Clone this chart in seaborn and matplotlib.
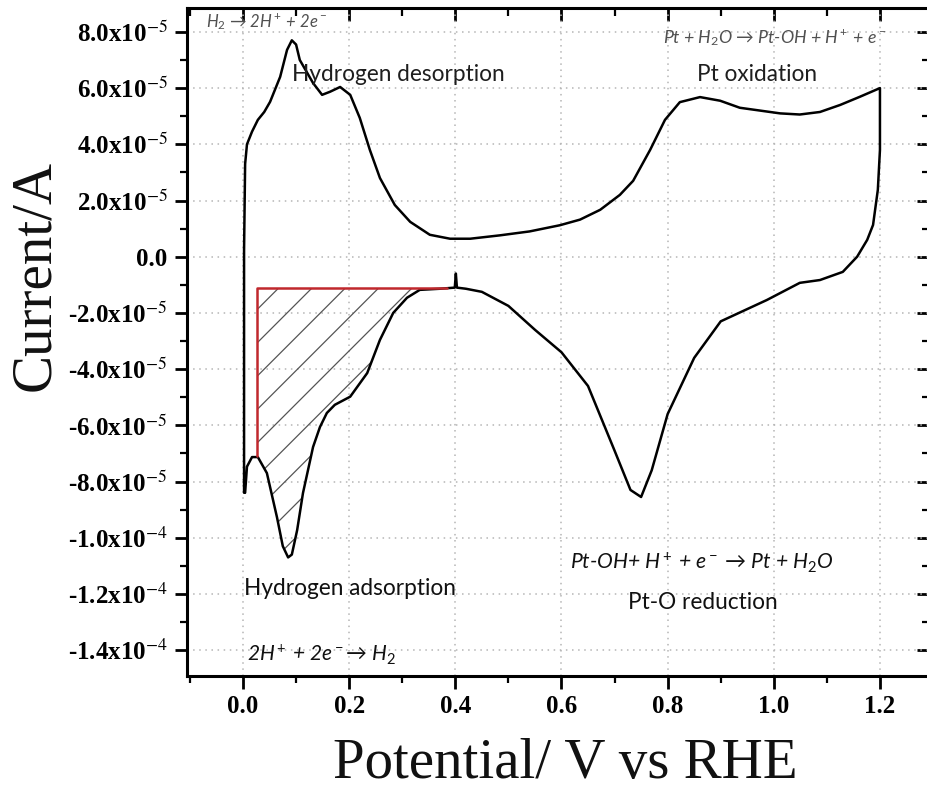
import numpy as np
import pandas as pd
import matplotlib
matplotlib.use("Agg")
import matplotlib.pyplot as plt
import seaborn as sns
from matplotlib.ticker import MultipleLocator, FixedLocator

# ---------------- data (potential in V, current in units of 1e-5 A) ----------------
anodic_v = [0.002, 0.002, 0.002, 0.004, 0.0075, 0.017, 0.028, 0.04, 0.051, 0.07, 0.083,
            0.092, 0.10, 0.107, 0.132, 0.149, 0.164, 0.183, 0.202, 0.22, 0.239, 0.258,
            0.286, 0.315, 0.352, 0.39, 0.428, 0.484, 0.54, 0.597, 0.635, 0.673, 0.71,
            0.735, 0.767, 0.795, 0.823, 0.861, 0.899, 0.936, 0.974, 1.012, 1.049, 1.087,
            1.125, 1.162, 1.20]
anodic_i = [-8.4, -5.1, 0.24, 3.3, 4.0, 4.45, 4.87, 5.15, 5.51, 6.4, 7.36,
            7.7, 7.55, 7.0, 6.18, 5.76, 5.87, 6.04, 5.76, 4.94, 3.8, 2.8,
            1.84, 1.24, 0.78, 0.64, 0.64, 0.76, 0.9, 1.12, 1.32, 1.67, 2.2,
            2.7, 3.8, 4.87, 5.5, 5.68, 5.55, 5.3, 5.2, 5.1, 5.06, 5.15,
            5.4, 5.69, 6.0]

cathodic_v = [1.20, 1.20, 1.196, 1.187, 1.176, 1.157, 1.13, 1.087, 1.049, 0.987, 0.90,
              0.85, 0.80, 0.77, 0.75, 0.73, 0.70, 0.65, 0.60, 0.55, 0.50, 0.45, 0.42,
              0.403, 0.401, 0.399, 0.371, 0.333, 0.309, 0.283, 0.258, 0.234, 0.202, 0.173,
              0.158, 0.145, 0.132, 0.113, 0.102, 0.092, 0.085, 0.075, 0.064, 0.045, 0.028,
              0.017, 0.0075, 0.004]
cathodic_i = [6.0, 3.8, 2.38, 1.13, 0.6, 0.0, -0.54, -0.83, -0.93, -1.54, -2.3,
              -3.6, -5.6, -7.6, -8.55, -8.3, -6.9, -4.6, -3.4, -2.6, -1.75, -1.25, -1.14,
              -1.1, -0.6, -1.1, -1.14, -1.18, -1.46, -2.0, -2.96, -4.14, -4.98, -5.27,
              -5.56, -6.06, -6.77, -8.41, -9.73, -10.6, -10.7, -10.3, -9.27, -7.7, -7.13,
              -7.13, -7.47, -8.4]

red_v = [0.026, 0.026, 0.385]
red_i = [-7.1, -1.12, -1.12]
hatch_start, hatch_end = 0.026, 0.385

xtick_vals = [0.0, 0.2, 0.4, 0.6, 0.8, 1.0, 1.2]
xtick_labels = ["0.0", "0.2", "0.4", "0.6", "0.8", "1.0", "1.2"]
ytick_vals = [8, 6, 4, 2, 0, -2, -4, -6, -8, -10, -12, -14]
ytick_labels = ["8.0x10$^{-5}$", "6.0x10$^{-5}$", "4.0x10$^{-5}$", "2.0x10$^{-5}$", "0.0",
                "-2.0x10$^{-5}$", "-4.0x10$^{-5}$", "-6.0x10$^{-5}$", "-8.0x10$^{-5}$",
                "-1.0x10$^{-4}$", "-1.2x10$^{-4}$", "-1.4x10$^{-4}$"]
SCALE = 1e-5

# ---------------- style ----------------
sns.set_style("ticks")
plt.rcParams["font.family"] = ["Liberation Serif", "DejaVu Serif"]
plt.rcParams["text.color"] = "black"
plt.rcParams["axes.labelcolor"] = "black"
plt.rcParams["xtick.color"] = "black"
plt.rcParams["ytick.color"] = "black"
plt.rcParams["mathtext.fontset"] = "custom"
plt.rcParams["mathtext.rm"] = "Lato"
plt.rcParams["mathtext.it"] = "Lato:italic"
plt.rcParams["mathtext.bf"] = "Lato:bold"
plt.rcParams["hatch.linewidth"] = 0.9

W, H = 927, 792
fig = plt.figure(figsize=(W / 100, H / 100), dpi=100)
ax = fig.add_axes([187 / W, 1 - 676 / H, (929 - 187) / W, (676 - 8) / H])

df = pd.DataFrame({
    "V": anodic_v + cathodic_v,
    "I": [v * SCALE for v in anodic_i + cathodic_i],
})
sns.lineplot(data=df, x="V", y="I", sort=False, estimator=None, color="black",
             lw=1.8, ax=ax)

# hatched region (hydrogen adsorption charge)
cv = np.array(cathodic_v)
ci = np.array(cathodic_i) * SCALE
m = (cv >= hatch_start) & (cv <= hatch_end)
ax.fill_between(cv[m], ci[m], red_i[-1] * SCALE, facecolor="none",
                edgecolor="#555555", hatch="/", linewidth=0, zorder=1)
ax.plot(red_v, [r * SCALE for r in red_i], color="#c0282d", lw=1.8, zorder=3)

ax.set_xlim(-0.1055, 1.2924)
ax.set_ylim(-14.92 * SCALE, 8.85 * SCALE)

ax.xaxis.set_major_locator(FixedLocator(xtick_vals))
ax.xaxis.set_minor_locator(MultipleLocator(0.1))
ax.set_xticklabels(xtick_labels, fontweight="bold", fontsize=18)
ax.yaxis.set_major_locator(FixedLocator([v * SCALE for v in ytick_vals]))
ax.yaxis.set_minor_locator(MultipleLocator(1 * SCALE))
ax.set_yticklabels(ytick_labels, fontweight="bold", fontsize=18, math_fontfamily="stix")

ax.tick_params(which="major", direction="out", length=9, width=2, pad=5,
               colors="black", labelcolor="black")
ax.tick_params(which="minor", direction="out", length=5, width=1.6, colors="black")
for s in ax.spines.values():
    s.set_linewidth(2.2)
    s.set_color("black")

ax.grid(True, which="major", color="#b5b5b5", linestyle=(0, (1, 3)), linewidth=1.1)

sec_x = ax.secondary_xaxis("top")
sec_x.xaxis.set_major_locator(FixedLocator(xtick_vals))
sec_x.xaxis.set_minor_locator(MultipleLocator(0.1))
sec_x.tick_params(which="major", direction="in", length=9, width=2, labeltop=False,
                  colors="black")
sec_x.tick_params(which="minor", direction="in", length=6, width=1.6, colors="black")
sec_y = ax.secondary_yaxis("right")
sec_y.yaxis.set_major_locator(FixedLocator([v * SCALE for v in ytick_vals]))
sec_y.yaxis.set_minor_locator(MultipleLocator(1 * SCALE))
sec_y.tick_params(which="major", direction="in", length=9, width=2, labelright=False,
                  colors="black")
sec_y.tick_params(which="minor", direction="in", length=5, width=1.6, colors="black")

ax.set_xlabel("Potential/ V vs RHE", fontsize=41, color="#111111")
ax.set_ylabel("Current/A", fontsize=41, color="#111111")
ax.xaxis.set_label_coords(0.51, -0.093)
ax.yaxis.set_label_coords(-0.17, 0.6)

sans = ["Lato", "DejaVu Sans"]
ax.text(0.045, 8.35 * SCALE, r"H$_2$ → 2H$^+$ + 2e$^-$", family=sans, style="italic",
        fontsize=12, color="#505050", ha="center", va="center")
ax.text(0.292, 6.47 * SCALE, "Hydrogen desorption", family=sans, fontsize=16.3,
        color="#1e1e1e", ha="center", va="center")
ax.text(1.002, 7.79 * SCALE, r"Pt + H$_2$O → Pt-OH + H$^+$ + e$^-$", family=sans,
        style="italic", fontsize=12.8, color="#505050", ha="center", va="center")
ax.text(0.968, 6.47 * SCALE, "Pt oxidation", family=sans, fontsize=16.3,
        color="#1e1e1e", ha="center", va="center")
ax.text(0.865, -10.9 * SCALE, r"Pt-OH+ H$^+$ + e$^-$ → Pt + H$_2$O", family=sans,
        style="italic", fontsize=15.2, color="#111111", ha="center", va="center")
ax.text(0.867, -12.3 * SCALE, "Pt-O reduction", family=sans, fontsize=16.3,
        color="#111111", ha="center", va="center")
ax.text(0.202, -11.82 * SCALE, "Hydrogen adsorption", family=sans, fontsize=16.3,
        color="#111111", ha="center", va="center")
ax.text(0.147, -14.17 * SCALE, r"2H$^+$ + 2e$^-$→ H$_2$", family=sans, style="italic",
        fontsize=15, color="#111111", ha="center", va="center")

fig.savefig("out.png", dpi=100, facecolor="white")
